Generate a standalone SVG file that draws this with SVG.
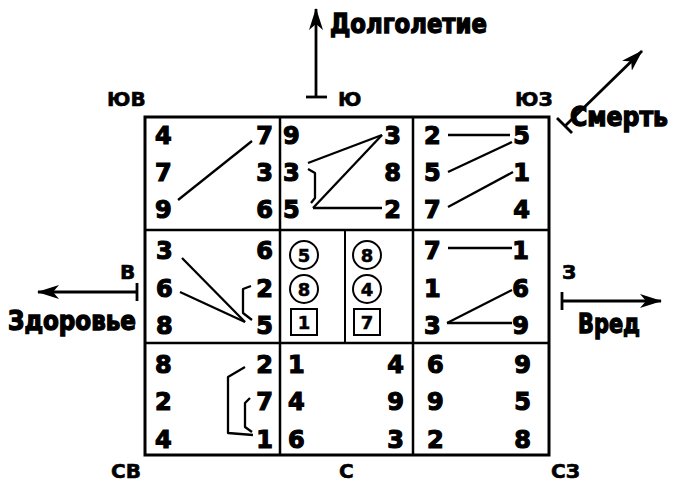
<svg xmlns="http://www.w3.org/2000/svg" width="688" height="482" viewBox="0 0 688 482">
<style>
.d{font-family:"DejaVu Sans","Liberation Sans",sans-serif;font-weight:bold;font-size:24px;fill:#000;stroke:#000;stroke-width:1.2}
.r{text-anchor:end}
.s{font-family:"DejaVu Sans","Liberation Sans",sans-serif;font-weight:bold;font-size:18px;fill:#000;stroke:#000;stroke-width:0.5;text-anchor:middle}
.lab{font-family:"DejaVu Sans","Liberation Sans",sans-serif;font-weight:bold;font-size:20px;fill:#000;stroke:#000;stroke-width:0.6}
.big{font-family:"DejaVu Sans Condensed","DejaVu Sans",sans-serif;font-weight:bold;font-size:27px;fill:#000;stroke:#000;stroke-width:1.3}
.ln{stroke:#000;stroke-width:2.3;fill:none;stroke-linejoin:round}
.ar{stroke:#000;stroke-width:2.8;fill:none}
</style>
<defs>
<marker id="ah" viewBox="0 0 22 14" refX="21" refY="7" markerWidth="22" markerHeight="14" markerUnits="userSpaceOnUse" orient="auto">
<path d="M0,0 L22,7 L0,14 L6,7 z" fill="#000"/>
</marker>
</defs>
<g id="grid">
<rect x="145" y="117" width="404" height="338" fill="#fff" stroke="#000" stroke-width="3"/>
<line x1="280" y1="117" x2="280" y2="455" stroke="#000" stroke-width="2.5"/>
<line x1="413" y1="117" x2="413" y2="455" stroke="#000" stroke-width="2.5"/>
<line x1="145" y1="230" x2="549" y2="230" stroke="#000" stroke-width="2.5"/>
<line x1="145" y1="343" x2="549" y2="343" stroke="#000" stroke-width="2.5"/>
</g>
<g id="cell-se">
<text class="d" x="155" y="144">4</text><text class="d" x="155" y="181">7</text><text class="d" x="155" y="218">9</text>
<text class="d r" x="273" y="144">7</text><text class="d r" x="273" y="181">3</text><text class="d r" x="273" y="218">6</text>
</g>
<g id="cell-s">
<text class="d" x="283" y="144">9</text><text class="d" x="283" y="181">3</text><text class="d" x="283" y="218">5</text>
<text class="d r" x="401" y="144">3</text><text class="d r" x="401" y="181">8</text><text class="d r" x="401" y="218">2</text>
</g>
<g id="cell-sw">
<text class="d" x="424" y="144">2</text><text class="d" x="424" y="181">5</text><text class="d" x="424" y="218">7</text>
<text class="d r" x="530" y="144">5</text><text class="d r" x="530" y="181">1</text><text class="d r" x="530" y="218">4</text>
</g>
<g id="cell-e">
<text class="d" x="156" y="259">3</text><text class="d" x="156" y="297">6</text><text class="d" x="156" y="334">8</text>
<text class="d r" x="273" y="259">6</text><text class="d r" x="273" y="297">2</text><text class="d r" x="273" y="334">5</text>
</g>
<g id="cell-center">
<line x1="345" y1="230" x2="345" y2="343" stroke="#000" stroke-width="2"/>
<circle cx="304" cy="255" r="14" fill="none" stroke="#000" stroke-width="2"/>
<circle cx="304" cy="289" r="14" fill="none" stroke="#000" stroke-width="2"/>
<rect x="291" y="309" width="26" height="26" fill="none" stroke="#000" stroke-width="2"/>
<circle cx="367" cy="255" r="14" fill="none" stroke="#000" stroke-width="2"/>
<circle cx="367" cy="289" r="14" fill="none" stroke="#000" stroke-width="2"/>
<rect x="354" y="309" width="26" height="26" fill="none" stroke="#000" stroke-width="2"/>
<text class="s" x="304" y="261.5">5</text><text class="s" x="304" y="295.5">8</text><text class="s" x="304" y="328.5">1</text>
<text class="s" x="367" y="261.5">8</text><text class="s" x="367" y="295.5">4</text><text class="s" x="367" y="328.5">7</text>
</g>
<g id="cell-w">
<text class="d" x="424" y="259">7</text><text class="d" x="424" y="297">1</text><text class="d" x="424" y="334">3</text>
<text class="d r" x="529" y="259">1</text><text class="d r" x="529" y="297">6</text><text class="d r" x="529" y="334">9</text>
</g>
<g id="cell-ne">
<text class="d" x="155" y="373">8</text><text class="d" x="155" y="410">2</text><text class="d" x="155" y="448">4</text>
<text class="d r" x="273" y="373">2</text><text class="d r" x="273" y="410">7</text><text class="d r" x="273" y="448">1</text>
</g>
<g id="cell-n">
<text class="d" x="288" y="373">1</text><text class="d" x="288" y="410">4</text><text class="d" x="288" y="448">6</text>
<text class="d r" x="404" y="373">4</text><text class="d r" x="404" y="410">9</text><text class="d r" x="404" y="448">3</text>
</g>
<g id="cell-nw">
<text class="d" x="427" y="373">6</text><text class="d" x="427" y="410">9</text><text class="d" x="427" y="448">2</text>
<text class="d r" x="531" y="373">9</text><text class="d r" x="531" y="410">5</text><text class="d r" x="531" y="448">8</text>
</g>
<g id="connectors">
<line class="ln" x1="178" y1="200" x2="252" y2="141"/>
<line class="ln" x1="308" y1="163" x2="382" y2="135"/>
<line class="ln" x1="313" y1="208" x2="382" y2="135"/>
<line class="ln" x1="313" y1="208" x2="382" y2="208"/>
<polyline class="ln" points="308,169 315,173 315,198 311,203"/>
<line class="ln" x1="448" y1="135" x2="510" y2="135"/>
<line class="ln" x1="448" y1="172" x2="512" y2="142"/>
<line class="ln" x1="448" y1="207" x2="513" y2="172"/>
<line class="ln" x1="182" y1="258" x2="245" y2="322"/>
<line class="ln" x1="180" y1="292" x2="245" y2="322"/>
<polyline class="ln" points="251,286 243,289 243,313 252,320"/>
<line class="ln" x1="448" y1="248" x2="512" y2="248"/>
<line class="ln" x1="447" y1="323" x2="512" y2="290"/>
<line class="ln" x1="447" y1="323" x2="512" y2="323"/>
<polyline class="ln" points="245,367 228,377 228,433 253,435"/>
<polyline class="ln" points="250,398 245,403 245,427 252,432"/>
<line class="ar" x1="316" y1="97" x2="316" y2="9" marker-end="url(#ah)"/>
<line class="ar" x1="306" y1="97" x2="327" y2="97"/>
<line class="ar" x1="565" y1="126" x2="642" y2="51" marker-end="url(#ah)"/>
<line class="ar" x1="557" y1="118" x2="572" y2="133"/>
<line class="ar" x1="137" y1="292" x2="38" y2="292" marker-end="url(#ah)"/>
<line class="ar" x1="137" y1="283" x2="137" y2="301"/>
<line class="ar" x1="562" y1="301" x2="661" y2="301" marker-end="url(#ah)"/>
<line class="ar" x1="562" y1="292" x2="562" y2="310"/>
</g>
<g id="labels">
<text class="lab" x="107" y="106">ЮВ</text>
<text class="lab" x="338" y="106">Ю</text>
<text class="lab" x="515" y="106">ЮЗ</text>
<text class="lab" x="120" y="279">В</text>
<text class="lab" x="562" y="279">З</text>
<text class="lab" x="111" y="478">СВ</text>
<text class="lab" x="339" y="478">С</text>
<text class="lab" x="551" y="478">СЗ</text>
<text class="big" x="330" y="33" textLength="157" lengthAdjust="spacingAndGlyphs">Долголетие</text>
<text class="big" x="570" y="126" textLength="98" lengthAdjust="spacingAndGlyphs">Смерть</text>
<text class="big" x="8" y="330" textLength="128" lengthAdjust="spacingAndGlyphs">Здоровье</text>
<text class="big" x="578" y="333" textLength="62" lengthAdjust="spacingAndGlyphs">Вред</text>
</g>
</svg>
